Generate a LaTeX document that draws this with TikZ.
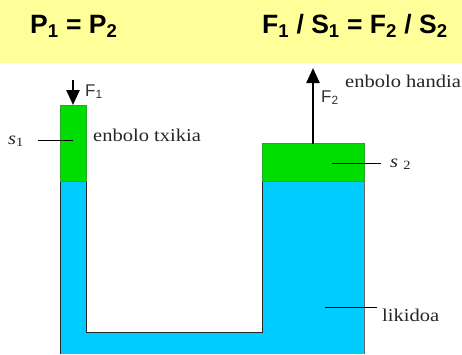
\documentclass[tikz,border=0pt]{standalone}
\usepackage{fontspec}
\setmainfont{Liberation Serif}
\newfontfamily\headfont{Liberation Sans}
\newfontfamily\labfont[FakeStretch=1.14]{Liberation Serif}
\definecolor{bandy}{HTML}{FFFF99}
\definecolor{liq}{HTML}{00CCFF}
\definecolor{pist}{HTML}{00DD00}
\definecolor{pistb}{HTML}{22AA22}
\usetikzlibrary{arrows.meta}
\tikzset{
  headtext/.style={anchor=base west,inner sep=0pt,font=\headfont\bfseries\fontsize{26.5}{30}\selectfont},
  lab/.style={anchor=base west,inner sep=0pt,font=\labfont\fontsize{18}{20}\selectfont,text=black!85},
  force/.style={anchor=base west,inner sep=0pt,font=\headfont\fontsize{17}{20}\selectfont,text=black!80},
  wall/.style={draw=black!85,line width=0.9pt},
  lead/.style={draw=black,line width=0.7pt},
  piston/.style={fill=pist,draw=pistb,line width=0.5pt},
  arr/.style={-{Triangle[length=15pt,width=13pt]},black,line width=2.4pt}
}
\begin{document}
\begin{tikzpicture}[x=1pt,y=-1pt]
\useasboundingbox (0,0) rectangle (462,354);
\fill[white] (0,0) rectangle (462,354);
\fill[bandy] (0,0) rectangle (462,63);
% liquid
\fill[liq] (60,181) rectangle (86,354);
\fill[liq] (60,332) rectangle (364,354);
\fill[liq] (262,181) rectangle (364,354);
% walls
\draw[wall] (60,155) -- (60,354);
\draw[wall] (86,155) -- (86,332) -- (262,332) -- (262,155);
\draw[wall,draw=black!60] (364,155) -- (364,354);
% pistons
\node[piston,minimum width=26pt,minimum height=76pt,inner sep=0pt,outer sep=0pt,anchor=north west] (p1) at (60,105) {};
\node[piston,minimum width=102pt,minimum height=38pt,inner sep=0pt,outer sep=0pt,anchor=north west] (p2) at (262,143) {};
% header
\node[headtext] (h1) at (30,33) {P\textsubscript{1} = P\textsubscript{2}};
\node[headtext] (h2) at (262,33) {F\textsubscript{1} / S\textsubscript{1} = F\textsubscript{2} / S\textsubscript{2}};
% forces
\coordinate (f1s) at (73,80);
\coordinate (f2e) at (313,68);
\coordinate (f2s) at (313,144);
\draw[arr] (f1s) -- (p1.north);
\draw[arr] (f2s) -- (f2e);
\node[force] (lf1) at (85,96) {F\textsubscript{1}};
\node[force] (lf2) at (321,102) {F\textsubscript{2}};
% leaders
\node[lab] (s1) at (8,144) {\textit{s}\textsubscript{1}};
\coordinate (s1a) at (38,140.5);
\coordinate (s1b) at (73,140.5);
\draw[lead] (s1a) -- (s1b);
\node[lab] (s2) at (390,167) {\textit{s} \textsubscript{2}};
\coordinate (s2a) at (332,163);
\coordinate (s2b) at (381,163);
\draw[lead] (s2a) -- (s2b);
\coordinate (la) at (325,307);
\coordinate (lb) at (377,307);
\draw[lead] (la) -- (lb);
\node[lab] (l0) at (93,141) {enbolo txikia};
\node[lab] (l1) at (345,87) {enbolo handia};
\node[lab] (l2) at (382,321) {likidoa};
\end{tikzpicture}
\end{document}
